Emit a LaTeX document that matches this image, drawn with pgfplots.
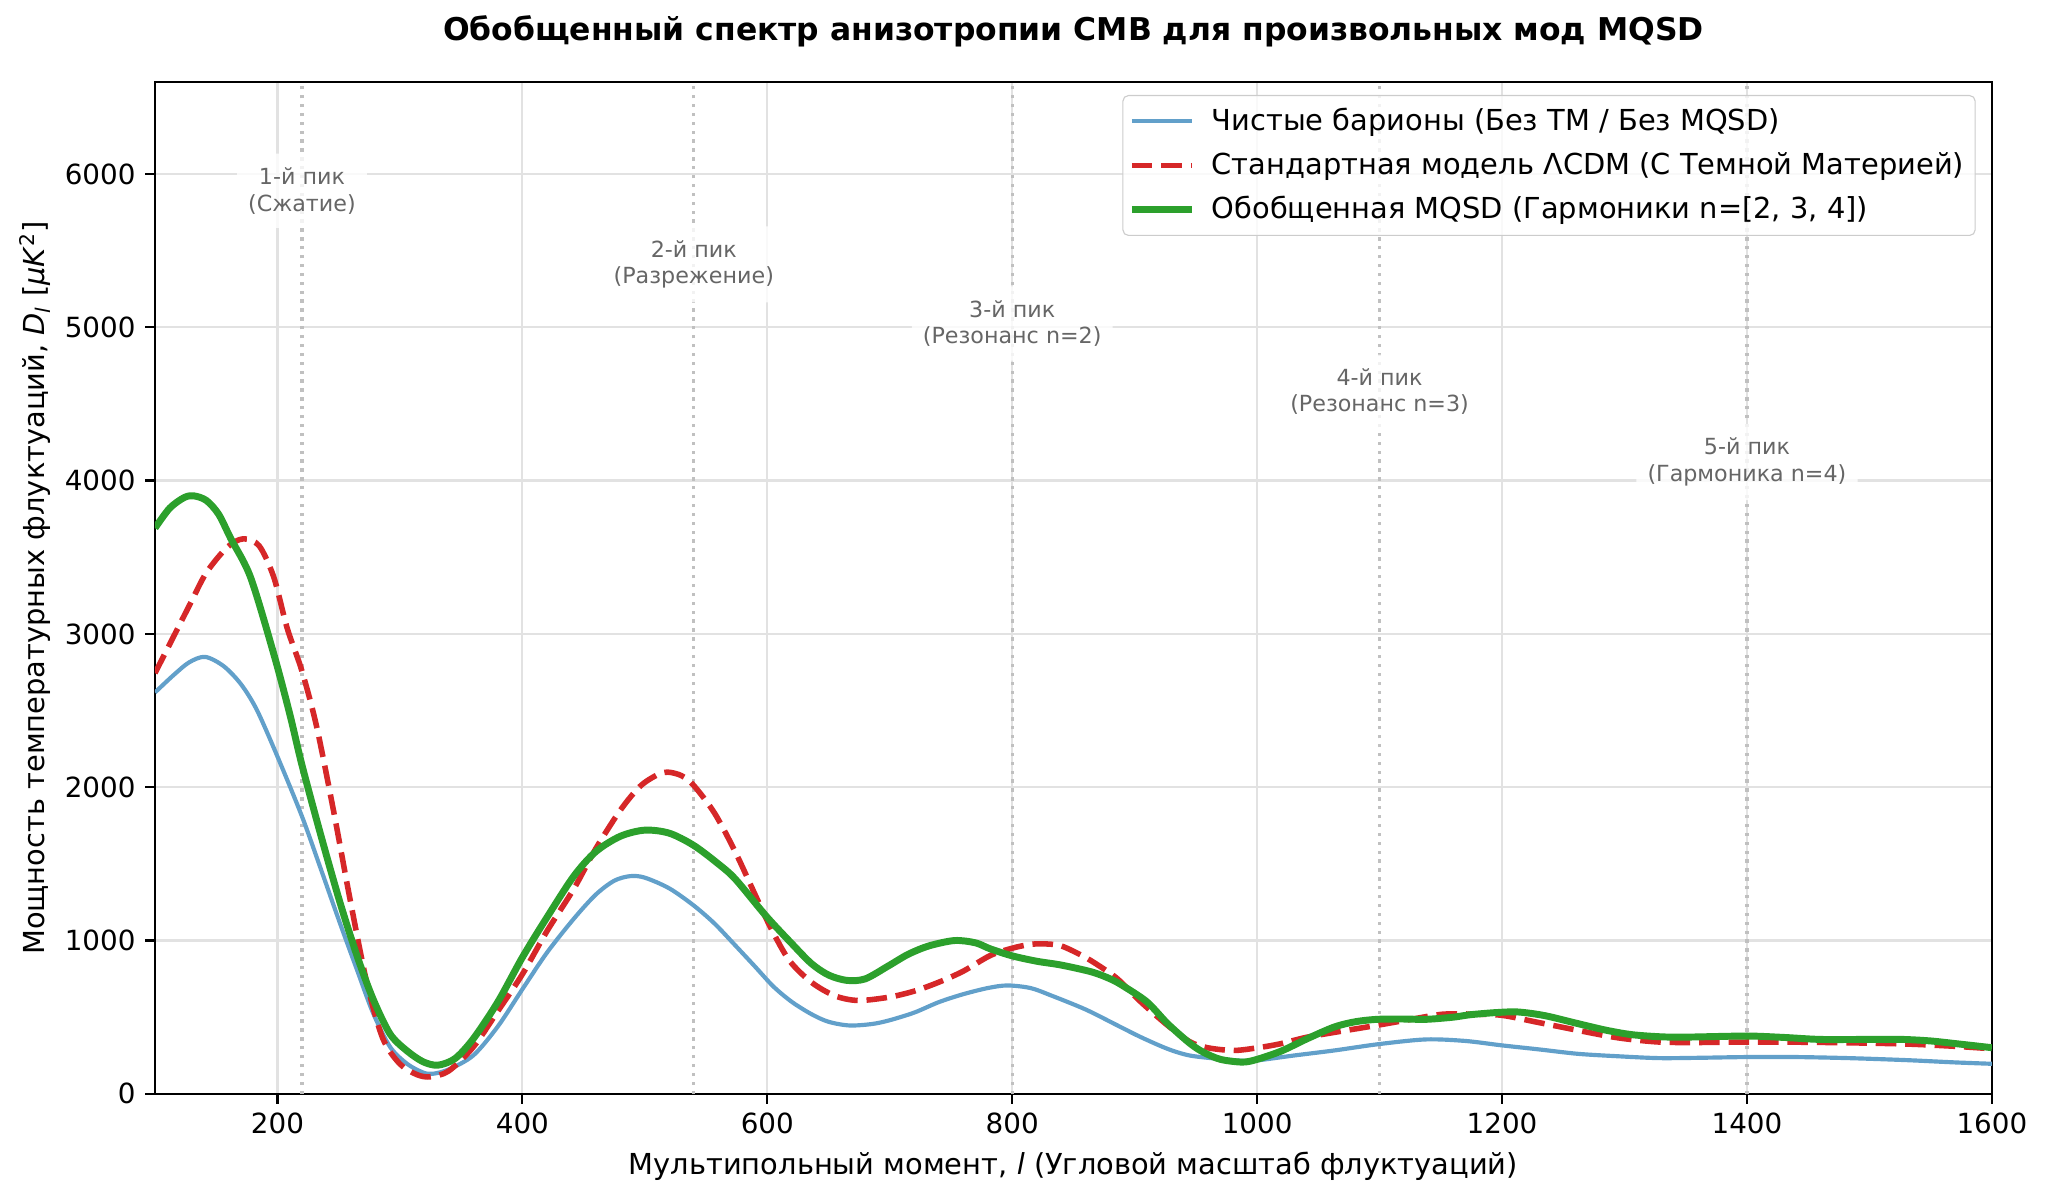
\documentclass[border=0pt]{standalone}
\usepackage{fontspec}
\setmainfont{DejaVu Sans}
\usepackage{pgfplots}
\pgfplotsset{compat=1.18}
\definecolor{cblue}{RGB}{98,160,202}
\definecolor{cred}{RGB}{214,39,40}
\definecolor{cgreen}{RGB}{44,160,44}
\definecolor{gridc}{RGB}{226,226,226}
\definecolor{vl}{RGB}{192,192,192}
\pgfplotsset{every axis title/.style={at={(axis description cs:0.5,1.0505)}, anchor=center, font=\fontsize{11.3}{13.5}\selectfont\bfseries}}
\begin{document}
\begin{tikzpicture}
\useasboundingbox (-55.8pt,-38.9pt) rectangle (681.5pt,393.8pt);
\begin{axis}[
  at={(0,0)}, anchor=south west,
  scale only axis, width=661.3pt, height=364.3pt,
  xmin=100, xmax=1600, ymin=0, ymax=6600,
  xtick={200,400,...,1600}, ytick={0,1000,...,6000},
  grid=major, major grid style={gridc, line width=0.8pt},
  axis line style={line width=0.8pt},
  tick align=outside, major tick length=3.5pt,
  tick style={black, line width=0.8pt},
  xtick pos=bottom, ytick pos=left,
  tick label style={font=\fontsize{10}{12}\selectfont},
  /pgf/number format/assume math mode=true,
  /pgf/number format/1000 sep={},
  title={Обобщенный спектр анизотропии CMB для произвольных мод MQSD},
  xlabel={Мультипольный момент, \textit{l} (Угловой масштаб флуктуаций)},
  xlabel style={font=\fontsize{10.4}{12.5}\selectfont, at={(axis description cs:0.5,-0.0711)}, anchor=center},
  ylabel={Мощность температурных флуктуаций, \textit{D}\textsubscript{\textit{l}} [\textit{μK}\textsuperscript{2}]},
  ylabel style={font=\fontsize{10.4}{12.5}\selectfont, at={(axis description cs:-0.0653,0.5)}, anchor=center},
  legend style={at={(axis description cs:0.9912,0.9871)}, anchor=north east,
    draw=black!20, rounded corners=2pt, fill=white, fill opacity=0.8, text opacity=1,
    font=\fontsize{10.4}{12.5}\selectfont, inner xsep=2pt, inner ysep=2.5pt, row sep=2.4pt, column sep=4pt},
  legend cell align=left,
  legend image code/.code={\draw[#1] (0pt,0pt) -- (21.5pt,0pt);},
]
% vertical dotted markers
\addplot[forget plot, vl, line width=1.2pt, dash pattern=on 1.2pt off 2pt] coordinates {(220,0) (220,6600)};
\addplot[forget plot, vl, line width=1.2pt, dash pattern=on 1.2pt off 2pt] coordinates {(540,0) (540,6600)};
\addplot[forget plot, vl, line width=1.2pt, dash pattern=on 1.2pt off 2pt] coordinates {(800,0) (800,6600)};
\addplot[forget plot, vl, line width=1.2pt, dash pattern=on 1.2pt off 2pt] coordinates {(1100,0) (1100,6600)};
\addplot[forget plot, vl, line width=1.2pt, dash pattern=on 1.2pt off 2pt] coordinates {(1400,0) (1400,6600)};

\addplot[cblue, line width=1.5pt, smooth, tension=0.5] coordinates {
(100,2618) (115,2730) (128,2815) (141,2850) (156,2790) (170,2674) (183,2507) (200,2200)
(220,1810) (235,1476) (251,1114) (265,808) (278,529) (292,306) (306,195) (319,139)
(327,131) (340,160) (360,251) (380,440) (400,682) (420,920) (442,1142) (460,1300)
(475,1390) (488,1420) (500,1410) (520,1340) (540,1228) (557,1110) (574,967) (590,830)
(605,700) (620,600) (636,520) (650,470) (667,446) (685,455) (699,478) (720,530)
(740,598) (760,650) (780,690) (796,707) (815,690) (832,641) (860,550) (886,446)
(905,370) (927,293) (945,250) (969,228) (990,215) (1000,218) (1030,250) (1063,283)
(1100,325) (1138,355) (1170,345) (1200,316) (1230,290) (1262,261) (1295,245) (1328,233)
(1360,235) (1400,240) (1440,240) (1483,233) (1530,220) (1570,205) (1600,196)};
\addlegendentry{Чистые барионы (Без ТМ / Без MQSD)}

\addplot[cred, line width=2pt, dash pattern=on 7.4pt off 3.2pt, smooth, tension=0.5] coordinates {
(100,2744) (115,2980) (129,3200) (142,3400) (159,3565) (172,3620) (185,3575)
(197,3370) (208,3036) (220,2758) (232,2395) (246,1838) (259,1281) (273,724) (286,362)
(300,195) (314,125) (325,111) (340,150) (360,306) (380,540) (400,780) (420,1060)
(442,1337) (460,1600) (480,1850) (496,2005) (510,2080) (519,2098) (530,2075) (540,2011)
(557,1830) (574,1576) (590,1300) (603,1080) (618,870) (636,728) (655,640) (674,609)
(699,630) (720,670) (740,728) (760,800) (782,902) (800,950) (815,975) (827,978)
(840,965) (857,902) (870,840) (886,750) (905,600) (927,446) (945,340) (960,300)
(981,283) (1000,300) (1018,325) (1041,370) (1070,410) (1098,447) (1125,485) (1151,519)
(1175,520) (1200,512) (1230,465) (1262,414) (1295,365) (1328,338) (1360,335) (1400,338)
(1440,337) (1483,333) (1530,325) (1570,310) (1600,294)};
\addlegendentry{Стандартная модель ΛCDM (С Темной Материей)}

\addplot[cgreen, line width=2.5pt, smooth, tension=0.5] coordinates {
(100,3690) (112,3820) (124,3890) (132,3900) (142,3870) (152,3780) (162,3620) (178,3370) (197,2869)
(210,2479) (220,2145) (235,1699) (251,1250) (265,900) (278,620) (292,390) (306,279)
(319,209) (331,187) (345,230) (360,360) (380,600) (400,890) (420,1150) (442,1420)
(460,1580) (480,1680) (500,1720) (520,1700) (540,1620) (560,1500) (574,1400) (599,1160)
(620,980) (636,850) (650,775) (665,740) (680,750) (699,835) (715,910) (732,965)
(753,1000) (770,985) (782,946) (800,900) (820,865) (840,840) (865,795) (880,750)
(890,707) (910,600) (927,457) (945,330) (956,272) (970,225) (988,207) (1000,225)
(1020,280) (1041,360) (1063,436) (1080,470) (1098,486) (1120,488) (1138,486) (1160,500)
(1174,516) (1195,530) (1213,534) (1235,510) (1262,458) (1285,415) (1306,386) (1330,372)
(1350,370) (1400,377) (1430,368) (1460,355) (1500,355) (1527,355) (1550,345) (1571,327)
(1600,301)};
\addlegendentry{Обобщенная MQSD (Гармоники n=[2, 3, 4])}

\tikzset{ann/.style={font=\fontsize{8}{9.6}\selectfont, text=black!60, fill=white, fill opacity=0.8, text opacity=1, align=center, inner xsep=4pt, inner ysep=5pt, rounded corners=2pt}}
\node[ann] at (axis cs:220,5890) {1-й пик\\(Сжатие)};
\node[ann] at (axis cs:540,5410) {2-й пик\\(Разрежение)};
\node[ann] at (axis cs:800,5025) {3-й пик\\(Резонанс n=2)};
\node[ann] at (axis cs:1100,4580) {4-й пик\\(Резонанс n=3)};
\node[ann] at (axis cs:1400,4120) {5-й пик\\(Гармоника n=4)};
\end{axis}
\end{tikzpicture}
\end{document}
